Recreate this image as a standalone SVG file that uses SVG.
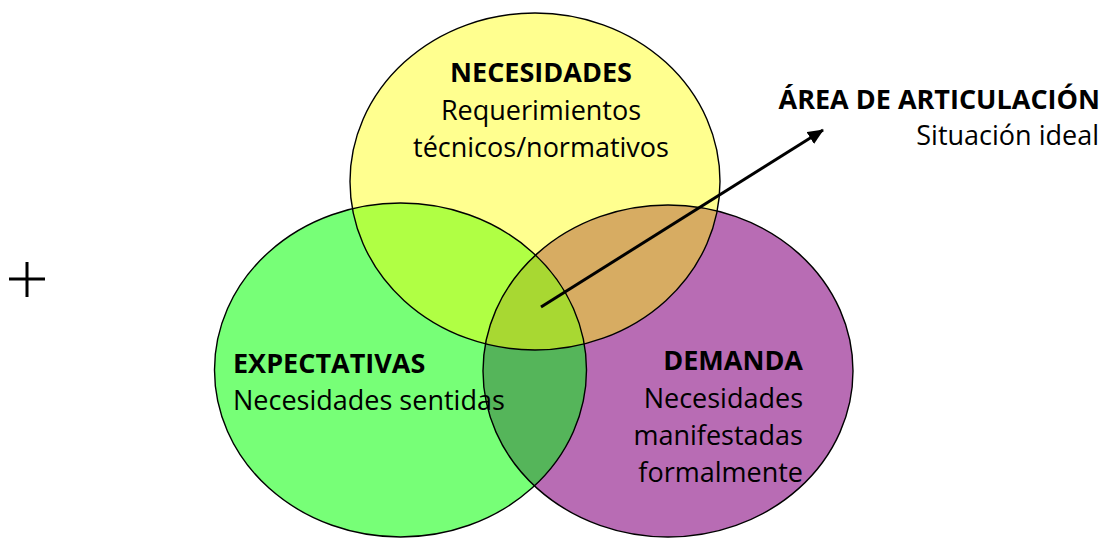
<svg xmlns="http://www.w3.org/2000/svg" width="1103" height="538" viewBox="0 0 1103 538">
<defs>
<style>
.t{font-family:"Open Sans","Noto Sans","Liberation Sans",sans-serif;fill:#000;font-size:27px;}
.b{font-weight:bold;}
.edge{fill:none;stroke:#000;stroke-width:1.4;}
</style>
<clipPath id="cy"><ellipse cx="535" cy="181.5" rx="185" ry="168.5"/></clipPath>
<clipPath id="cg"><ellipse cx="400.5" cy="370" rx="186" ry="167"/></clipPath>
<marker id="ah" markerWidth="16" markerHeight="14" refX="15" refY="7" orient="auto" markerUnits="userSpaceOnUse" viewBox="0 0 16 14">
<path d="M0,0 L16,7 L0,14 z" fill="#000"/>
</marker>
</defs>
<rect width="1103" height="538" fill="#fff"/>
<g id="fills">
<ellipse cx="400.5" cy="370" rx="186" ry="167" fill="#77FF77"/>
<ellipse cx="668" cy="371" rx="185" ry="166" fill="#B86CB4"/>
<ellipse cx="535" cy="181.5" rx="185" ry="168.5" fill="#FFFF8F"/>
<g clip-path="url(#cy)"><ellipse cx="400.5" cy="370" rx="186" ry="167" fill="#B0FF44"/><ellipse cx="668" cy="371" rx="185" ry="166" fill="#D7AC62"/></g>
<g clip-path="url(#cg)"><ellipse cx="668" cy="371" rx="185" ry="166" fill="#55B55A"/></g>
<g clip-path="url(#cy)"><g clip-path="url(#cg)"><ellipse cx="668" cy="371" rx="185" ry="166" fill="#A8D832"/></g></g>
</g>
<g id="necesidades">
<ellipse class="edge" cx="535" cy="181.5" rx="185" ry="168.5"/>
<text class="t b" x="541" y="82" text-anchor="middle">NECESIDADES</text>
<text class="t" x="541" y="120" text-anchor="middle">Requerimientos</text>
<text class="t" x="541" y="157" text-anchor="middle">técnicos/normativos</text>
</g>
<g id="expectativas">
<ellipse class="edge" cx="400.5" cy="370" rx="186" ry="167"/>
<text class="t b" x="233" y="373">EXPECTATIVAS</text>
<text class="t" x="233" y="410">Necesidades sentidas</text>
</g>
<g id="demanda">
<ellipse class="edge" cx="668" cy="371" rx="185" ry="166"/>
<text class="t b" x="803" y="370" text-anchor="end">DEMANDA</text>
<text class="t" x="803" y="408" text-anchor="end">Necesidades</text>
<text class="t" x="803" y="445" text-anchor="end">manifestadas</text>
<text class="t" x="803" y="482" text-anchor="end">formalmente</text>
</g>
<g id="area">
<text class="t b" x="1100" y="109" font-size="25" text-anchor="end">ÁREA DE ARTICULACIÓN</text>
<text class="t" x="1099" y="145" font-size="25.5" text-anchor="end">Situación ideal</text>
</g>
<g id="plus">
<path d="M9,279 H45 M27,262 V297" stroke="#000" stroke-width="3" fill="none"/>
</g>
<g id="connectors">
<line x1="541" y1="307" x2="823" y2="130" stroke="#000" stroke-width="3" marker-end="url(#ah)"/>
</g>
</svg>
